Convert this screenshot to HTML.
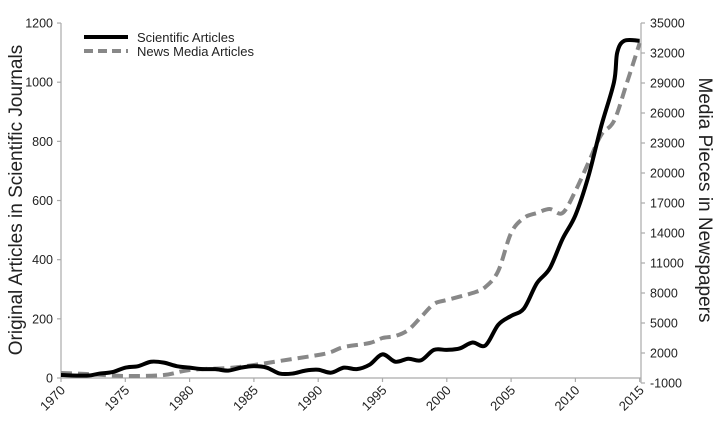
<!DOCTYPE html>
<html><head><meta charset="utf-8"><style>
html,body{margin:0;padding:0;background:#fff;}
svg{display:block;font-family:"Liberation Sans",Arial,sans-serif;}
</style></head><body>
<svg id="c" width="720" height="426" viewBox="0 0 720 426" xmlns="http://www.w3.org/2000/svg">
<g stroke="#aaa" stroke-width="1.2">
<line x1="61" y1="23" x2="61" y2="378"/>
<line x1="61" y1="378" x2="641" y2="378"/>
<line x1="641" y1="23" x2="641" y2="383"/>
</g>
<g id="ticks" stroke="#aaa" stroke-width="1.2"></g>
<g id="lab" font-size="12.5" fill="#222"></g>
<text transform="translate(22,200) rotate(-90)" text-anchor="middle" font-size="19" fill="#222">Original Articles in Scientific Journals</text>
<text transform="translate(699,200) rotate(90)" text-anchor="middle" font-size="19" fill="#222">Media Pieces in Newspapers</text>
<path id="g" fill="none" stroke="#888" stroke-width="4" stroke-dasharray="11,6"/>
<path id="b" fill="none" stroke="#000" stroke-width="4" stroke-linejoin="round"/>
<line x1="84" y1="37" x2="128" y2="37" stroke="#000" stroke-width="4"/>
<line x1="84" y1="51" x2="128" y2="51" stroke="#888" stroke-width="4" stroke-dasharray="9,5"/>
<text x="137" y="42" font-size="13" fill="#222">Scientific Articles</text>
<text x="137" y="56" font-size="13" fill="#222">News Media Articles</text>
</svg>
<script>
var X=function(y){return 61+12.86*(y-1970)};
var YL=function(v){return 378-v*0.2958};
var YR=function(v){return 383-(v+1000)*0.01};
var ns="http://www.w3.org/2000/svg",t=document.getElementById('ticks'),l=document.getElementById('lab');
function el(p,n,a,txt){var e=document.createElementNS(ns,n);for(var k in a)e.setAttribute(k,a[k]);if(txt!==undefined)e.textContent=txt;p.appendChild(e);}
for(var v=0;v<=1200;v+=200){var y=YL(v);el(t,'line',{x1:57,y1:y,x2:61,y2:y});el(l,'text',{x:53,y:y+4.5,'text-anchor':'end'},v);}
for(var v=-1000;v<=35000;v+=3000){var y=YR(v);el(t,'line',{x1:641,y1:y,x2:645,y2:y});el(l,'text',{x:650,y:y+4.5},v);}
for(var yr=1970;yr<=2015;yr+=5){var x=X(yr);el(t,'line',{x1:x,y1:378,x2:x,y2:382});el(l,'text',{transform:'translate('+(x+5)+',391) rotate(-45)','text-anchor':'end','font-size':'13'},yr);}
var B=[[1970,10],[1972,8],[1973,15],[1974,20],[1975,35],[1976,40],[1977,55],[1978,52],[1979,40],[1980,35],[1981,30],[1982,30],[1983,25],[1984,35],[1985,40],[1986,35],[1987,15],[1988,15],[1989,25],[1990,28],[1991,18],[1992,35],[1993,30],[1994,45],[1995,80],[1996,55],[1997,65],[1998,60],[1999,95],[2000,95],[2001,100],[2002,120],[2003,110],[2004,180],[2005,210],[2006,235],[2007,320],[2008,370],[2009,470],[2010,550],[2011,680],[2012,850],[2013,1000],[2013.25,1100],[2013.8,1140],[2015,1140]];
var G=[[1970,0],[1972,-100],[1975,-300],[1978,-200],[1980,300],[1983,500],[1985,800],[1987,1200],[1990,1800],[1991,2100],[1992,2600],[1994,3000],[1995,3500],[1996,3700],[1997,4300],[1998,5600],[1999,6900],[2000,7300],[2002,8000],[2003,8600],[2004,10200],[2005,14000],[2006,15500],[2007,16000],[2008,16400],[2009,16000],[2010,18200],[2011,21000],[2012,23800],[2013,25200],[2014,29000],[2015,33000]];
function path(d,f){var p=d.map(function(a){return [X(a[0]),f(a[1])]});var s='M'+p[0][0]+','+p[0][1];
for(var i=0;i<p.length-1;i++){var p0=p[i-1]||p[i],p1=p[i],p2=p[i+1],p3=p[i+2]||p2;
s+='C'+(p1[0]+(p2[0]-p0[0])/6)+','+(p1[1]+(p2[1]-p0[1])/6)+' '+(p2[0]-(p3[0]-p1[0])/6)+','+(p2[1]-(p3[1]-p1[1])/6)+' '+p2[0]+','+p2[1];}return s;}
document.getElementById('b').setAttribute('d',path(B,YL));
document.getElementById('g').setAttribute('d',path(G,YR));
</script>
</body></html>
